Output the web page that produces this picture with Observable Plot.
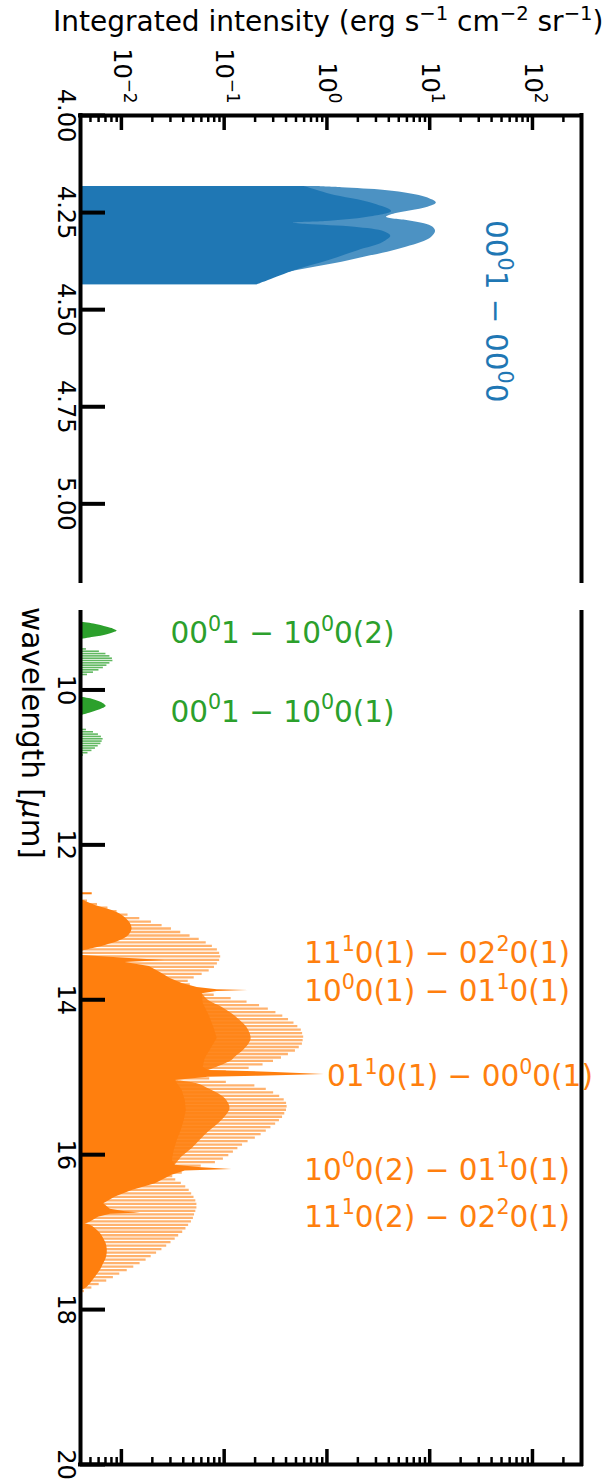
<!DOCTYPE html>
<html><head><meta charset="utf-8">
<script src="https://cdn.jsdelivr.net/npm/d3@7"></script>
<script src="https://cdn.jsdelivr.net/npm/@observablehq/plot@0.6"></script>
<style>
body{margin:0;background:#fff;}
#wrap{position:relative;width:609px;height:1483px;font-family:"DejaVu Sans",sans-serif;color:#000;overflow:hidden;background:#fff}
.lab{position:absolute;white-space:nowrap;line-height:1}
.lab sup{font-size:0.7em;vertical-align:0.55em;line-height:0}
</style></head>
<body><div id="wrap">
<div id="p1" style="position:absolute;left:0;top:0"></div>
<div id="p2" style="position:absolute;left:0;top:590px"></div>
<div class="lab" id="xlab" style="left:53px;top:8px;font-size:28px">Integrated intensity (erg s<sup>−1</sup> cm<sup>−2</sup> sr<sup>−1</sup>)</div>
<div class="lab" id="ylab" style="left:31px;top:733px;font-size:29.5px;transform:translate(-50%,-50%) rotate(90deg)">wavelength [<i>μ</i>m]</div>
</div>
<script>
// ---------- axis ticks ----------
const xMin = 0.004, xMax = 300;
const xMajor = [0.01, 0.1, 1, 10, 100];
const xMajorLabels = ["10⁻²", "10⁻¹", "10⁰", "10¹", "10²"];
const yTicks1 = [4.00, 4.25, 4.50, 4.75, 5.00];
const yLabels1 = ["4.00", "4.25", "4.50", "4.75", "5.00"];
const yTicks2 = [10, 12, 14, 16, 18, 20];
const yLabels2 = ["10", "12", "14", "16", "18", "20"];

// ---------- data: [wavelength µm, integrated intensity] ----------
// 00^01 - 00^00 band (4.3 µm)
const blueOuter = [
  [4.183, 0.8], [4.186, 1.4], [4.193, 3.7], [4.202, 6.6], [4.211, 9.3], [4.225, 11.6],
  [4.236, 9.6], [4.245, 6.6], [4.253, 4.6], [4.262, 3.8], [4.271, 6.2], [4.279, 8.9],
  [4.288, 10.8], [4.299, 11.4], [4.314, 10.4], [4.327, 8.3], [4.339, 5.9], [4.352, 3.9],
  [4.365, 2.3], [4.378, 1.4], [4.391, 0.76], [4.404, 0.42], [4.417, 0.27], [4.430, 0.21], [4.436, 0.21]
];
const blueInner = [
  [4.183, 0.6], [4.195, 0.85], [4.206, 1.2], [4.217, 2.0], [4.228, 2.9], [4.247, 4.25],
  [4.262, 2.5], [4.273, 0.96], [4.277, 0.47], [4.281, 0.65], [4.288, 1.87], [4.300, 3.66],
  [4.311, 4.18], [4.327, 3.52], [4.348, 2.01], [4.374, 1.03], [4.399, 0.49], [4.425, 0.27], [4.436, 0.21]
];
// 00^01 - 10^00 bands (9.4 / 10.4 µm)
const greenA = [
  [9.127, 0.0040], [9.149, 0.0054], [9.192, 0.0073], [9.215, 0.0084], [9.239, 0.0091],
  [9.262, 0.0084], [9.286, 0.0073], [9.321, 0.0054], [9.351, 0.0040]
];
const greenB = [
  [9.47, 0.00457], [9.50, 0.00611], [9.53, 0.00707], [9.56, 0.00773], [9.59, 0.00818], [9.62, 0.00827],
  [9.65, 0.00773], [9.68, 0.00723], [9.71, 0.00668], [9.74, 0.00605], [9.77, 0.00535], [9.80, 0.00468]
];
const greenC = [
  [10.095, 0.0040], [10.12, 0.0052], [10.16, 0.0063], [10.19, 0.0069], [10.212, 0.0071],
  [10.24, 0.0066], [10.27, 0.0058], [10.30, 0.0049], [10.332, 0.0040]
];
const greenD = [
  [10.51, 0.00457], [10.54, 0.00535], [10.57, 0.00598], [10.60, 0.00639], [10.63, 0.00664], [10.66, 0.00650],
  [10.69, 0.00632], [10.72, 0.00595], [10.75, 0.00559], [10.78, 0.00517], [10.81, 0.00473], [10.84, 0.00428]
];
// 15 µm bands: individual lines (light)
const orangeLines = [
  [12.720, 0.00468], [12.765, 0.00585], [12.810, 0.00740], [12.855, 0.00908], [12.900, 0.0116],
  [12.945, 0.0151], [12.990, 0.0196], [13.035, 0.0249], [13.080, 0.0307], [13.125, 0.0378],
  [13.170, 0.0466], [13.215, 0.0572], [13.260, 0.0669], [13.305, 0.0768], [13.350, 0.0859],
  [13.395, 0.0904], [13.440, 0.0925], [13.485, 0.0904], [13.530, 0.0859], [13.575, 0.0805],
  [13.620, 0.0715], [13.665, 0.0611], [13.710, 0.0511], [13.755, 0.0447], [13.800, 0.0468],
  [13.845, 0.0506], [13.890, 0.0598], [13.935, 0.0800], [13.980, 0.117], [14.025, 0.167],
  [14.070, 0.221], [14.115, 0.269], [14.160, 0.319], [14.205, 0.372], [14.250, 0.423],
  [14.295, 0.478], [14.340, 0.521], [14.385, 0.563], [14.430, 0.580], [14.475, 0.594],
  [14.520, 0.587], [14.565, 0.577], [14.610, 0.538], [14.655, 0.494], [14.700, 0.422],
  [14.745, 0.361], [14.790, 0.302], [14.835, 0.239], [14.880, 0.175], [14.925, 0.105],
  [15.015, 0.0723], [15.060, 0.105], [15.105, 0.199], [15.150, 0.257], [15.195, 0.303],
  [15.240, 0.347], [15.285, 0.384], [15.330, 0.405], [15.375, 0.410], [15.420, 0.404],
  [15.465, 0.389], [15.510, 0.370], [15.555, 0.345], [15.600, 0.317], [15.645, 0.285],
  [15.690, 0.257], [15.735, 0.229], [15.780, 0.201], [15.825, 0.171], [15.870, 0.151],
  [15.915, 0.136], [15.960, 0.123], [16.005, 0.111], [16.050, 0.0983], [16.095, 0.0822],
  [16.140, 0.0598], [16.230, 0.0391], [16.275, 0.0316], [16.320, 0.0338], [16.365, 0.0383],
  [16.410, 0.0423], [16.455, 0.0457], [16.500, 0.0483], [16.545, 0.0509], [16.590, 0.0530],
  [16.635, 0.0543], [16.680, 0.0543], [16.725, 0.0530], [16.770, 0.0515], [16.815, 0.0502],
  [16.860, 0.0480], [16.905, 0.0451], [16.950, 0.0425], [16.995, 0.0395], [17.040, 0.0361],
  [17.085, 0.0334], [17.130, 0.0304], [17.175, 0.0276], [17.220, 0.0248], [17.265, 0.0220],
  [17.310, 0.0195], [17.355, 0.0174], [17.400, 0.0152], [17.445, 0.0132], [17.490, 0.0114],
  [17.535, 0.00964], [17.580, 0.00836], [17.625, 0.00720], [17.670, 0.00608], [17.715, 0.00516],
  [17.760, 0.00437]
];
const orangeIsolated = [[12.625, 0.0052]];
// dense (blended) envelopes
const orangeMidR = [
  [13.923, 0.0611], [14.009, 0.0705], [14.095, 0.0951], [14.181, 0.119], [14.267, 0.143], [14.354, 0.166],
  [14.439, 0.179], [14.503, 0.183], [14.568, 0.175], [14.654, 0.154], [14.741, 0.128], [14.783, 0.119],
  [14.870, 0.0855], [14.912, 0.0705]
];
const orangeMidP = [
  [15.041, 0.0334], [15.084, 0.0547], [15.148, 0.0705], [15.213, 0.0881], [15.299, 0.106], [15.406, 0.114],
  [15.515, 0.102], [15.600, 0.0881], [15.708, 0.0705], [15.815, 0.0585], [15.923, 0.0486], [16.031, 0.0388],
  [16.138, 0.0334]
];
const orangeSolidTop = [
  [12.719, 0.0043], [12.783, 0.00559], [12.848, 0.00812], [12.912, 0.0102], [12.999, 0.0120], [13.084, 0.0127],
  [13.170, 0.0118], [13.235, 0.00978], [13.299, 0.00700], [13.342, 0.00520], [13.373, 0.00415]
];
const orangeSolid = [
  [13.428, 0.0042], [13.463, 0.0109], [13.493, 0.0264], [13.519, 0.0109], [13.570, 0.0187], [13.648, 0.0239],
  [13.725, 0.0299], [13.790, 0.0391], [13.841, 0.0547], [13.871, 0.0855], [13.880, 0.171], [13.893, 0.0855],
  [13.923, 0.0611], [14.048, 0.0625], [14.203, 0.0715], [14.371, 0.0800], [14.500, 0.0855], [14.628, 0.0748],
  [14.757, 0.0654], [14.870, 0.0625], [14.912, 0.0705], [14.938, 0.313], [14.964, 0.942], [14.986, 0.214],
  [14.999, 0.070], [15.041, 0.0334], [15.170, 0.0391], [15.299, 0.0418], [15.428, 0.0428], [15.557, 0.0409],
  [15.686, 0.0383], [15.815, 0.0350], [15.944, 0.0327], [16.073, 0.0313], [16.138, 0.0334], [16.168, 0.0607],
  [16.190, 0.119], [16.212, 0.0418], [16.267, 0.0311], [16.374, 0.0214], [16.461, 0.0127], [16.547, 0.00875],
  [16.632, 0.00673], [16.706, 0.00782], [16.738, 0.0109], [16.754, 0.0153], [16.770, 0.00782], [16.809, 0.00598],
  [16.870, 0.00500], [16.912, 0.0042]
];
const orangeSolidTail = [
  [16.886, 0.0042], [16.912, 0.0050], [16.955, 0.00559], [17.019, 0.00625], [17.084, 0.00673], [17.148, 0.00710],
  [17.213, 0.00727], [17.277, 0.00727], [17.342, 0.00710], [17.406, 0.00673], [17.471, 0.00639], [17.535, 0.00594],
  [17.600, 0.00547], [17.665, 0.00500], [17.729, 0.00447], [17.751, 0.0041]
];
// annotations
const blueNotes = [{label: "00⁰1 − 00⁰0", wl: 4.504, I: 43.7}];
const greenNotes = [
  {label: "00⁰1 − 10⁰0(2)", wl: 9.277, I: 0.030},
  {label: "00⁰1 − 10⁰0(1)", wl: 10.289, I: 0.030}
];
const orangeNotes = [
  {label: "11¹0(1) − 02²0(1)", wl: 13.402, I: 0.60},
  {label: "10⁰0(1) − 01¹0(1)", wl: 13.897, I: 0.60},
  {label: "01¹0(1) − 00⁰0(1)", wl: 14.996, I: 1.0},
  {label: "10⁰0(2) − 01¹0(1)", wl: 16.203, I: 0.60},
  {label: "11¹0(2) − 02²0(1)", wl: 16.806, I: 0.60}
];

// ---------- styling ----------
const BLUE = "#1f77b4", ORANGE = "#ff7f0e", GREEN = "#2ca02c";
const W = 609, ML = 80, MR = 28, FW = W - ML - MR;
const NOTE_FS = 29.5, TICK_FS = 24;
const xMinor = [];
for (const m of [0.001, 0.01, 0.1, 1, 10, 100]) for (let k = 2; k <= 9; k++) {
  const v = +(m * k).toPrecision(3);
  if (v >= xMin && v <= xMax) xMinor.push(v);
}
const style = {fontFamily: "DejaVu Sans", fontSize: TICK_FS + "px", overflow: "visible", background: "transparent", color: "#000"};
const wl = d => d[0], val = d => d[1], base = () => xMin;
const area = (data, fill, op = 1, curve = "linear") => Plot.areaX(data, {y: wl, x1: base, x2: val, fill, fillOpacity: op, curve});
const lines = (data, stroke, op, sw) => Plot.ruleY(data, {y: wl, x1: base, x2: val, stroke, strokeOpacity: op, strokeWidth: sw});

// turn unicode superscripts into raised, smaller tspans (mathtext look)
const SUP = {"⁰": "0", "¹": "1", "²": "2", "⁻": "−"};
function supify(svg) {
  svg.querySelectorAll("text").forEach(t => {
    const s = t.textContent;
    if (![...s].some(c => SUP[c])) return;
    const fs = parseFloat(getComputedStyle(t).fontSize);
    const raise = 0.42 * fs;
    const runs = [];
    for (const c of s) {
      const sup = !!SUP[c], ch = SUP[c] || c;
      if (runs.length && runs[runs.length - 1].sup === sup) runs[runs.length - 1].t += ch;
      else runs.push({sup, t: ch});
    }
    t.textContent = "";
    let cur = 0;
    for (const r of runs) {
      const ts = document.createElementNS("http://www.w3.org/2000/svg", "tspan");
      const target = r.sup ? -raise : 0;
      ts.setAttribute("dy", target - cur);
      cur = target;
      if (r.sup) ts.setAttribute("font-size", (fs * 0.7).toFixed(2));
      ts.textContent = r.t;
      t.appendChild(ts);
    }
  });
}

// ---------- panel 1 ----------
const H1 = 590, MT1 = 115, MB1 = 9, FH1 = H1 - MT1 - MB1;
const p1 = Plot.plot({
  width: W, height: H1, marginTop: MT1, marginBottom: MB1, marginLeft: ML, marginRight: MR, style,
  x: {type: "log", domain: [xMin, xMax]},
  y: {domain: [4, 5.2], reverse: true},
  marks: [
    area(blueOuter, BLUE, 0.8, "catmull-rom"),
    area(blueInner, BLUE, 1, "catmull-rom"),
    Plot.ruleX([xMin, xMax], {x: d => d, stroke: "#000", strokeWidth: 4, strokeLinecap: "square"}),
    Plot.ruleY([4], {y: d => d, stroke: "#000", strokeWidth: 4, strokeLinecap: "square"}),
    Plot.ruleX(xMajor, {x: d => d, insetBottom: FH1 - 15, stroke: "#000", strokeWidth: 3.5}),
    Plot.ruleX(xMinor, {x: d => d, insetBottom: FH1 - 7, stroke: "#000", strokeWidth: 2.5}),
    Plot.ruleY(yTicks1, {y: d => d, insetRight: FW - 25, stroke: "#000", strokeWidth: 4}),
    Plot.axisX({anchor: "top", ticks: xMajor, tickFormat: d => xMajorLabels[xMajor.indexOf(d)], tickRotate: 90, tickSize: 0, tickPadding: 12, label: null}),
    Plot.axisY({anchor: "left", ticks: yTicks1, tickFormat: d => yLabels1[yTicks1.indexOf(d)], tickRotate: 90, tickSize: 0, tickPadding: 5, label: null}),
    Plot.text(blueNotes, {x: "I", y: "wl", text: "label", rotate: 90, textAnchor: "middle", fill: BLUE, fontSize: NOTE_FS})
  ]
});
document.getElementById("p1").append(p1);
supify(p1);

// ---------- panel 2 ----------
const H2 = 893, MT2 = 22, MB2 = 19, FH2 = H2 - MT2 - MB2;
const p2 = Plot.plot({
  width: W, height: H2, marginTop: MT2, marginBottom: MB2, marginLeft: ML, marginRight: MR, style,
  x: {type: "log", domain: [xMin, xMax], axis: null},
  y: {domain: [9, 20], reverse: true},
  marks: [
    lines(orangeLines, ORANGE, 0.6, 2.3),
    area(orangeMidR, ORANGE, 0.9, "catmull-rom"),
    area(orangeMidP, ORANGE, 0.9, "catmull-rom"),
    area(orangeSolidTop, ORANGE, 1, "catmull-rom"),
    area(orangeSolid, ORANGE),
    area(orangeSolidTail, ORANGE, 1, "catmull-rom"),
    lines(orangeIsolated, ORANGE, 1, 2),
    lines(greenB, GREEN, 0.75, 1.6),
    lines(greenD, GREEN, 0.75, 1.6),
    area(greenA, GREEN, 1, "catmull-rom"),
    area(greenC, GREEN, 1, "catmull-rom"),
    Plot.ruleX([xMin, xMax], {x: d => d, stroke: "#000", strokeWidth: 4, strokeLinecap: "square"}),
    Plot.ruleY([20], {y: d => d, stroke: "#000", strokeWidth: 4, strokeLinecap: "square"}),
    Plot.ruleX(xMajor, {x: d => d, insetTop: FH2 - 15, stroke: "#000", strokeWidth: 3.5}),
    Plot.ruleX(xMinor, {x: d => d, insetTop: FH2 - 7, stroke: "#000", strokeWidth: 2.5}),
    Plot.ruleY(yTicks2, {y: d => d, insetRight: FW - 25, stroke: "#000", strokeWidth: 4}),
    Plot.axisY({anchor: "left", ticks: yTicks2, tickFormat: d => yLabels2[yTicks2.indexOf(d)], tickRotate: 90, tickSize: 0, tickPadding: 5, label: null}),
    Plot.text(greenNotes, {x: "I", y: "wl", text: "label", textAnchor: "start", fill: GREEN, fontSize: NOTE_FS}),
    Plot.text(orangeNotes, {x: "I", y: "wl", text: "label", textAnchor: "start", fill: ORANGE, fontSize: NOTE_FS})
  ]
});
document.getElementById("p2").append(p2);
supify(p2);
</script>
</body></html>
